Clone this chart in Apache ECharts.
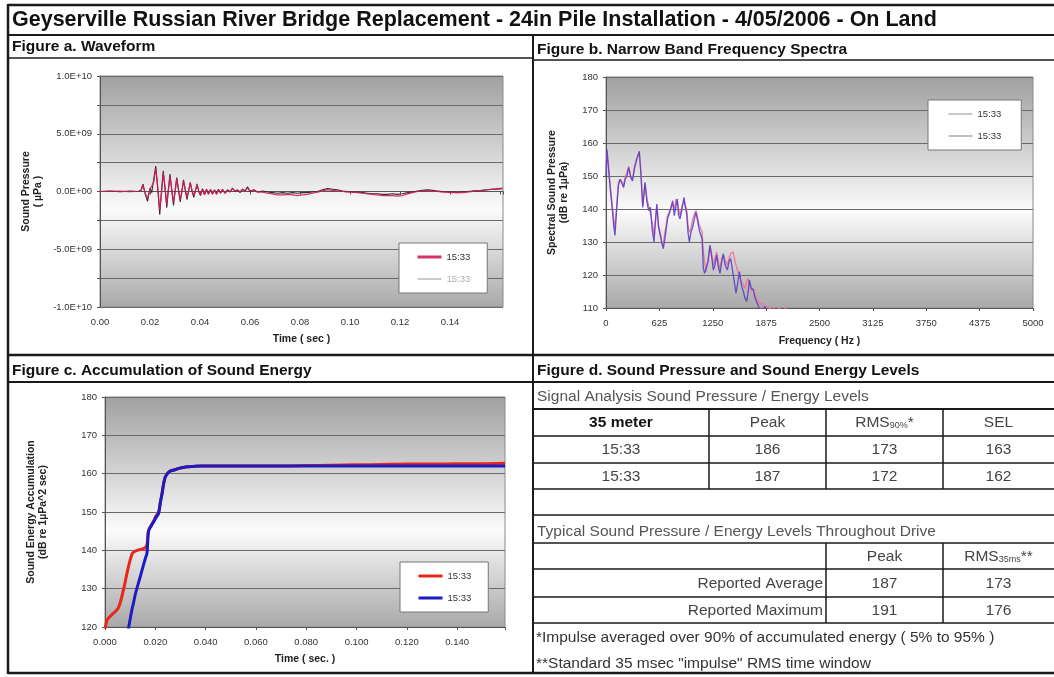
<!DOCTYPE html>
<html>
<head>
<meta charset="utf-8">
<script src="https://cdn.jsdelivr.net/npm/echarts@6/dist/echarts.min.js"></script>
<style>
  html, body { margin: 0; padding: 0; background: #fff; }
  #main { width: 1054px; height: 677px; }
</style>
</head>
<body>
<div id="main"></div>
<script>
// ---------- Figure a: waveform (pressure in units of 1E+09 µPa) ----------
const waveTime = [
  0.000, 0.004, 0.008, 0.012, 0.0155, 0.0165, 0.0172, 0.0180, 0.0190, 0.0200,
  0.0207, 0.0215, 0.0223, 0.0231, 0.0239, 0.0246, 0.0253, 0.0260, 0.0267, 0.0273,
  0.0280, 0.0287, 0.0294, 0.0300, 0.0307, 0.0314, 0.0321, 0.0327, 0.0334, 0.0341,
  0.0348, 0.0354, 0.0361, 0.0368, 0.0375, 0.0381, 0.0388, 0.0395, 0.0402, 0.0410,
  0.0418, 0.0426, 0.0434, 0.0442, 0.0450, 0.0458, 0.0466, 0.0474, 0.0482, 0.0490,
  0.0500, 0.0510, 0.0520, 0.0530, 0.0540, 0.0550, 0.0560, 0.0570, 0.0580, 0.0590,
  0.0600, 0.0615, 0.0630, 0.0650, 0.0670, 0.0690, 0.0710, 0.0730, 0.0750, 0.0770,
  0.0790, 0.0810, 0.0830, 0.0850, 0.0870, 0.0890, 0.0910, 0.0930, 0.0950, 0.0970,
  0.0990, 0.1010, 0.1030, 0.1050, 0.1070, 0.1090, 0.1110, 0.1130, 0.1150, 0.1170,
  0.1190, 0.1210, 0.1230, 0.1250, 0.1270, 0.1290, 0.1310, 0.1330, 0.1350, 0.1370,
  0.1390, 0.1410, 0.1430, 0.1450, 0.1470, 0.1490, 0.1510, 0.1530, 0.1550, 0.1570,
  0.1590, 0.1610
];
const waveDarkE9 = [
  0.00, 0.04, -0.02, 0.03, 0.00, 0.15, 0.65, -0.15, -0.85, 0.30,
  -0.10, 1.10, 2.20, 0.20, -2.00, 0.10, 1.80, 0.30, -1.40, 0.10,
  1.50, 0.10, -1.20, 0.00, 1.20, 0.10, -0.90, 0.00, 1.00, 0.10,
  -0.70, 0.00, 0.80, 0.05, -0.50, 0.00, 0.65, 0.00, -0.35, 0.25,
  -0.25, 0.20, -0.20, 0.15, -0.25, 0.15, -0.20, 0.20, -0.15, 0.15,
  -0.15, 0.15, -0.05, 0.30, 0.00, 0.15, -0.10, 0.20, 0.05, 0.40,
  0.00, 0.15, -0.05, 0.05, -0.05, -0.10, -0.15, -0.10, -0.15, -0.10,
  -0.15, -0.10, -0.10, -0.05, 0.00, 0.15, 0.25, 0.20, 0.15, 0.05,
  0.00, -0.05, -0.05, -0.10, -0.15, -0.20, -0.20, -0.25, -0.25, -0.20,
  -0.25, -0.20, -0.10, -0.05, 0.05, 0.10, 0.15, 0.10, 0.05, 0.00,
  -0.05, -0.05, -0.10, -0.05, 0.00, 0.05, 0.05, 0.10, 0.15, 0.20,
  0.20, 0.25
];
const wavePinkE9 = [
  0.00, 0.02, 0.03, -0.02, 0.02, 0.10, 0.55, -0.10, -0.60, 0.20,
  0.05, 0.80, 2.00, 0.40, -1.60, -0.20, 1.60, 0.40, -1.10, 0.00,
  1.30, 0.20, -0.90, -0.10, 1.10, 0.20, -0.70, -0.10, 0.90, 0.20,
  -0.50, 0.00, 0.75, 0.10, -0.35, 0.05, 0.55, 0.05, -0.30, 0.20,
  -0.30, 0.15, -0.25, 0.20, -0.20, 0.10, -0.25, 0.15, -0.10, 0.20,
  -0.15, 0.10, 0.00, 0.25, 0.05, 0.10, 0.00, 0.15, 0.10, 0.30,
  0.05, 0.10, -0.05, -0.05, -0.15, -0.20, -0.30, -0.30, -0.25, -0.30,
  -0.35, -0.30, -0.25, -0.15, -0.05, 0.05, 0.15, 0.10, 0.05, 0.00,
  -0.05, -0.05, -0.10, -0.15, -0.20, -0.25, -0.30, -0.35, -0.35, -0.35,
  -0.40, -0.35, -0.20, -0.10, 0.00, 0.05, 0.10, 0.05, 0.00, -0.05,
  -0.05, -0.10, -0.10, -0.10, -0.05, 0.00, 0.05, 0.10, 0.15, 0.20,
  0.25, 0.30
];

// ---------- Figure b: narrow band spectra (dB re 1µPa) ----------
const specFreq = [
  0, 12, 30, 50, 70, 90, 105, 125, 145, 165,
  185, 205, 225, 245, 265, 290, 310, 335, 360, 390,
  410, 430, 457, 480, 500, 520, 540, 562, 580, 595,
  615, 635, 655, 670, 690, 705, 720, 740, 760, 781,
  800, 820, 835, 850, 867, 890, 913, 930, 945, 960,
  976, 995, 1015, 1035, 1054, 1075, 1093, 1110, 1125, 1140,
  1155, 1171, 1195, 1218, 1240, 1257, 1275, 1296, 1315, 1335,
  1355, 1374, 1395, 1421, 1440, 1460, 1487, 1505, 1522, 1545,
  1562, 1585, 1608, 1628, 1647, 1665, 1679, 1700, 1725, 1745,
  1764, 1785, 1803, 1830, 1860, 1890, 1920, 1950, 1990, 2030,
  2070, 2100, 2140, 2200
];
const specPurple = [
  150, 158, 152, 146, 141, 135, 132, 140, 147, 149,
  148, 146.5, 149, 150, 152.5, 149.5, 148.5, 152.5, 155, 157.5,
  150, 140.5, 148, 142, 139.5, 140.5, 134, 130, 136.5, 141.5,
  134.5, 132, 129.5, 128, 131, 134, 137, 138.5, 138, 142.5,
  138, 141, 143, 138, 137, 140, 143.5, 140.5, 138.5, 133,
  130, 133, 134.5, 137, 139, 136, 133.5, 133, 131, 122,
  120.5, 120, 124, 129, 125, 121.5, 123, 126, 122.5, 120.5,
  124, 126.5, 123, 121.5, 124, 125, 120.5, 117.5, 114.5, 118,
  121, 117, 115, 113, 112, 115, 118.5, 116, 115.5, 113,
  112.5, 110.5, 109.5, 108, 110.5, 108.5, 107, 109.8, 106, 105,
  104, 103, 102, 100
];
const specPink = [
  152, 157, 153, 147, 142, 137, 134, 141, 148, 149,
  149, 147, 150, 151, 153, 150, 149, 153, 155.5, 157,
  151, 141, 148, 143, 141, 141.5, 136, 132, 137, 141,
  135, 133, 130, 129, 133, 135, 138, 139, 139, 141.5,
  140, 143, 142, 140, 138, 141, 142.5, 141, 140, 135,
  133, 134, 137, 138.5, 139.5, 137, 135, 134, 133, 127,
  124, 121, 125, 129, 126, 123, 125, 127, 124, 122,
  125, 126, 124.5, 123, 125, 126.5, 127, 125, 123, 121,
  119.5, 118, 117, 116, 118, 119, 117, 115, 116, 114,
  113, 112, 111, 111.5, 110, 110.5, 109.5, 110.5, 109, 110.2,
  108, 110.3, 107, 104
];

// ---------- Figure c: accumulated sound energy (dB re 1µPa^2 sec) ----------
const energyTime = [
  0.0000, 0.0008, 0.0027, 0.0053, 0.0073, 0.0093, 0.0107, 0.0113, 0.0120, 0.0133,
  0.0140, 0.0150, 0.0160, 0.0167, 0.0173, 0.0183, 0.0193, 0.0203, 0.0213, 0.0220,
  0.0227, 0.0233, 0.0240, 0.0250, 0.0260, 0.0273, 0.0290, 0.0310, 0.0327, 0.0350,
  0.0380, 0.0410, 0.0500, 0.0600, 0.0700, 0.0800, 0.0900, 0.1000, 0.1100, 0.1200,
  0.1300, 0.1400, 0.1500, 0.1590
];
const energyRed = [
  119.0, 121.8, 123.2, 125.0, 129.6, 135.7, 139.0, 139.5, 139.8, 140.1,
  140.2, 140.4, 140.7, 141.5, 145.2, 146.5, 147.6, 149.0, 150.0, 152.5,
  155.0, 157.5, 159.2, 160.2, 160.7, 161.0, 161.3, 161.6, 161.8, 161.9,
  162.0, 162.0, 162.0, 162.0, 162.0, 162.1, 162.2, 162.3, 162.4, 162.5,
  162.5, 162.6, 162.6, 162.7
];
const energyBlue = [
  null, null, null, null, null, 119.5, 124.5, 126.2, 128.4, 131.5,
  133.1, 135.5, 137.8, 139.3, 145.0, 146.3, 147.4, 148.6, 149.6, 152.5,
  154.8, 157.3, 159.2, 160.2, 160.7, 160.9, 161.3, 161.6, 161.8, 161.9,
  162.0, 162.0, 162.0, 162.0, 162.0, 162.0, 162.0, 162.0, 162.0, 162.0,
  162.0, 162.0, 162.0, 162.0
];

// ---------- Figure d: level tables ----------
const shotHeader = ['35 meter', 'Peak', '{a|RMS}{s|90%}{a|*}', 'SEL'];
const shotRows = [
  ['15:33', 186, 173, 163],
  ['15:33', 187, 172, 162]
];
const driveHeader = ['Peak', '{a|RMS}{s|35ms}{a|**}'];
const driveRows = [
  ['Reported Average', 187, 173],
  ['Reported Maximum', 191, 176]
];
const footnotes = [
  '*Impulse averaged over 90% of accumulated energy ( 5% to 95% )',
  '**Standard 35 msec "impulse" RMS time window'
];
const shotLabel = '15:33';

// ---------- helpers ----------
const zip = (xs, ys) => xs.map((x, i) => [x, ys[i]]);
const FONT = 'Liberation Sans, Arial, sans-serif';
const plotFill = {
  type: 'linear', x: 0, y: 0, x2: 0, y2: 1,
  colorStops: [
    { offset: 0, color: '#a0a0a0' },
    { offset: 0.58, color: '#fbfbfb' },
    { offset: 1, color: '#a8a8a8' }
  ]
};
function sciLabel(v) {
  if (Math.abs(v / 5 - Math.round(v / 5)) > 1e-6) return '';
  const x = v * 1e9;
  if (Math.abs(x) < 1) return '0.0E+00';
  const e = Math.floor(Math.log10(Math.abs(x)) + 1e-9);
  const m = Math.abs(x) / Math.pow(10, e);
  return (x < 0 ? '-' : '') + m.toFixed(1) + 'E+' + String(e).padStart(2, '0');
}
function stepLabel(step, lastShown, digits) {
  return function (v) {
    const k = v / step;
    if (Math.abs(k - Math.round(k)) > 1e-6 || v > lastShown + 1e-9) return '';
    return v.toFixed(digits);
  };
}
const axisNameStyle = { fontFamily: FONT, fontSize: 10.5, fontWeight: 'bold', color: '#222', lineHeight: 12 };
function xAxisOf(gridIndex, min, max, interval, formatter, name, nameGap) {
  return {
    type: 'value', gridIndex, min, max, interval,
    name, nameLocation: 'middle', nameGap,
    nameTextStyle: axisNameStyle,
    axisLine: { show: true, lineStyle: { color: '#555', width: 1 } },
    axisTick: { show: true, length: 3, lineStyle: { color: '#555' } },
    axisLabel: { formatter, fontFamily: FONT, fontSize: 9.5, color: '#333', margin: 10, showMaxLabel: true },
    splitLine: { show: false }
  };
}
function yAxisOf(gridIndex, min, max, interval, formatter, name, nameGap) {
  return {
    type: 'value', gridIndex, min, max, interval,
    name, nameLocation: 'middle', nameGap, nameRotate: 90,
    nameTextStyle: axisNameStyle,
    axisLine: { show: true, lineStyle: { color: '#555', width: 1 } },
    axisTick: { show: true, length: 3, lineStyle: { color: '#555' } },
    axisLabel: { formatter, fontFamily: FONT, fontSize: 9.5, color: '#333', margin: 8 },
    splitLine: { show: true, lineStyle: { color: '#6a6a6a', width: 1.2 } }
  };
}
function legendOf(left, top, pad, items) {
  return {
    orient: 'vertical', left, top,
    data: items,
    formatter: () => shotLabel,
    backgroundColor: '#ffffff',
    borderColor: '#777', borderWidth: 1,
    padding: pad, itemGap: 12, itemWidth: 24, itemHeight: 8,
    itemStyle: { opacity: 0, borderWidth: 0 },
    textStyle: { fontFamily: FONT, fontSize: 9.5, color: '#333' },
    selectedMode: false
  };
}

// ---------- frame, headings and tables ----------
const g = [];
function line(x1, y1, x2, y2, w) {
  g.push({ type: 'line', silent: true, shape: { x1, y1, x2, y2 },
           style: { stroke: '#1a1a1a', lineWidth: w } });
}
function text(x, y, str, size, opts) {
  opts = opts || {};
  const style = {
    text: str, x, y,
    fontFamily: FONT, fontSize: size,
    fontWeight: opts.bold ? 'bold' : 'normal',
    fill: opts.color || '#222',
    align: opts.align || 'left', verticalAlign: 'middle',
    textAlign: opts.align || 'left', textVerticalAlign: 'middle'
  };
  if (opts.rich) style.rich = opts.rich;
  g.push({ type: 'text', silent: true, style });
}

// outer frame and dividers
line(8, 5, 1054, 5, 2.5);
line(8, 4, 8, 674, 2.5);
line(8, 673, 1054, 673, 2.5);
line(8, 35, 1054, 35, 2);
line(8, 58, 533, 58, 1.5);
line(533, 60, 1054, 60, 1.5);
line(533, 35, 533, 673, 2);
line(8, 355, 1054, 355, 2.5);
line(8, 382, 1054, 382, 2);

const TS = 15.5; // table text size
text(12, 20, 'Geyserville Russian River Bridge Replacement - 24in Pile Installation - 4/05/2006 - On Land', 21.5, { bold: true, color: '#111' });
text(12, 47, 'Figure a. Waveform', 15.5, { bold: true, color: '#111' });
text(537, 50, 'Figure b. Narrow Band Frequency Spectra', 15.5, { bold: true, color: '#111' });
text(12, 371, 'Figure c. Accumulation of Sound Energy', 15.5, { bold: true, color: '#111' });
text(537, 371, 'Figure d. Sound Pressure and Sound Energy Levels', 15.5, { bold: true, color: '#111' });

// table 1
const colEdges = [533, 709, 826, 943, 1054];
const colMid = i => (colEdges[i] + colEdges[i + 1]) / 2;
const subRich = {
  a: { fontFamily: FONT, fontSize: TS, fill: '#444', color: '#444' },
  s: { fontFamily: FONT, fontSize: 9, fill: '#444', color: '#444', padding: [6, 0, 0, 0] }
};
text(537, 397, 'Signal Analysis Sound Pressure / Energy Levels', TS, { color: '#555' });
[409, 436, 463, 489, 515].forEach((y, i) => line(533, y, 1054, y, i === 0 ? 2 : 1.5));
[709, 826, 943].forEach(x => line(x, 409, x, 489, 1.5));
shotHeader.forEach((h, i) => {
  if (i === 0) text(colMid(i), 423, h, TS, { bold: true, align: 'center', color: '#111' });
  else if (h.indexOf('{') === 0) text(colMid(i), 423, h, TS, { align: 'center', rich: subRich, color: '#444' });
  else text(colMid(i), 423, h, TS, { align: 'center', color: '#444' });
});
shotRows.forEach((row, r) => {
  const y = 450 + r * 26.5;
  row.forEach((v, i) => text(colMid(i), y, String(v), TS, { align: 'center', color: '#444' }));
});

// table 2
text(537, 532, 'Typical Sound Pressure / Energy Levels Throughout Drive', TS, { color: '#555' });
[543, 569, 597, 623].forEach(y => line(533, y, 1054, y, 1.5));
[826, 943].forEach(x => line(x, 543, x, 623, 1.5));
driveHeader.forEach((h, i) => {
  if (h.indexOf('{') === 0) text(colMid(i + 2), 557, h, TS, { align: 'center', rich: subRich, color: '#444' });
  else text(colMid(i + 2), 557, h, TS, { align: 'center', color: '#444' });
});
driveRows.forEach((row, r) => {
  const y = 584 + r * 27;
  text(823, y, row[0], TS, { align: 'right', color: '#444' });
  text(colMid(2), y, String(row[1]), TS, { align: 'center', color: '#444' });
  text(colMid(3), y, String(row[2]), TS, { align: 'center', color: '#444' });
});
footnotes.forEach((f, i) => text(536, 638 + i * 26, f, TS, { color: '#333' }));

// ---------- charts ----------
const chart = echarts.init(document.getElementById('main'), null, { renderer: 'canvas' });
const gridBase = { show: true, backgroundColor: plotFill, borderColor: '#8a8a8a', borderWidth: 1, containLabel: false };

chart.setOption({
  animation: false,
  backgroundColor: '#ffffff',
  textStyle: { fontFamily: FONT },
  grid: [
    Object.assign({ left: 100, top: 76, width: 403, height: 231 }, gridBase),
    Object.assign({ left: 606, top: 77, width: 427, height: 231 }, gridBase),
    Object.assign({ left: 105, top: 397, width: 400, height: 230 }, gridBase)
  ],
  xAxis: [
    xAxisOf(0, 0, 0.1612, 0.02, stepLabel(0.02, 0.14, 2), 'Time ( sec )', 26),
    xAxisOf(1, 0, 5000, 625, v => String(v), 'Frequency ( Hz )', 27),
    xAxisOf(2, 0, 0.159, 0.02, stepLabel(0.02, 0.14, 3), 'Time ( sec. )', 26)
  ],
  yAxis: [
    yAxisOf(0, -10, 10, 2.5, sciLabel, 'Sound Pressure\n( µPa )', 56),
    yAxisOf(1, 110, 180, 10, v => String(v), 'Spectral Sound Pressure\n(dB re 1µPa)', 36),
    yAxisOf(2, 120, 180, 10, v => String(v), 'Sound Energy Accumulation\n(dB re 1µPa^2 sec)', 56)
  ],
  legend: [
    legendOf(399, 243, [9, 17, 9, 17], [
      { name: 'a-1', lineStyle: { color: '#d41a5c', width: 3 } },
      { name: 'a-2', lineStyle: { color: '#9a9a9a', width: 1 }, textStyle: { color: '#b0b0b0' } }
    ]),
    legendOf(928, 100, [9, 20, 9, 20], [
      { name: 'b-1', lineStyle: { color: '#909090', width: 1 } },
      { name: 'b-2', lineStyle: { color: '#707070', width: 1 } }
    ]),
    legendOf(400, 562, [9, 17, 9, 17], [
      { name: 'c-1', lineStyle: { color: '#e8261c', width: 3 } },
      { name: 'c-2', lineStyle: { color: '#1c1cc0', width: 3 } }
    ])
  ],
  series: [
    { name: 'a-2', type: 'line', xAxisIndex: 0, yAxisIndex: 0, data: zip(waveTime, waveDarkE9),
      showSymbol: false, symbol: 'none', lineStyle: { color: '#3a2a33', width: 1.1 } },
    { name: 'a-1', type: 'line', xAxisIndex: 0, yAxisIndex: 0, data: zip(waveTime, wavePinkE9),
      showSymbol: false, symbol: 'none', lineStyle: { color: '#d41a5c', width: 1.2, opacity: 0.9 } },
    { name: 'b-1', type: 'line', xAxisIndex: 1, yAxisIndex: 1, data: zip(specFreq, specPink),
      showSymbol: false, symbol: 'none', lineStyle: { color: '#ec7a9a', width: 1.3 } },
    { name: 'b-2', type: 'line', xAxisIndex: 1, yAxisIndex: 1, data: zip(specFreq, specPurple),
      showSymbol: false, symbol: 'none', lineStyle: { color: '#5b3fc4', width: 1.3, opacity: 0.9 } },
    { name: 'c-1', type: 'line', xAxisIndex: 2, yAxisIndex: 2, data: zip(energyTime, energyRed),
      showSymbol: false, symbol: 'none', smooth: 0.3, lineStyle: { color: '#e8261c', width: 3 } },
    { name: 'c-2', type: 'line', xAxisIndex: 2, yAxisIndex: 2, data: zip(energyTime, energyBlue),
      showSymbol: false, symbol: 'none', smooth: 0.3, lineStyle: { color: '#1c1cc0', width: 3 } }
  ],
  graphic: g
});
</script>
</body>
</html>
